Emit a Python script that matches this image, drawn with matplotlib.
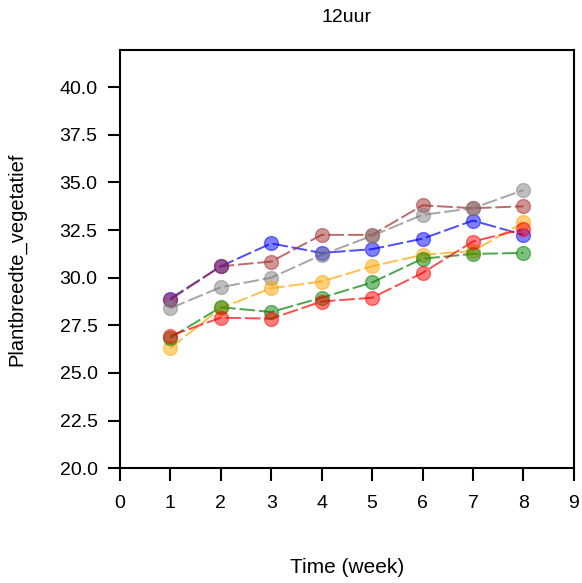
import numpy as np
import matplotlib.pyplot as plt

plt.rcParams['font.family'] = ['Liberation Sans', 'DejaVu Sans']

weeks = [1, 2, 3, 4, 5, 6, 7, 8]
blue = [28.9, 30.6, 31.8, 31.3, 31.5, 32.05, 33.0, 32.25]
brown = [28.85, 30.6, 30.85, 32.25, 32.25, 33.8, 33.65, 33.75]
gray = [28.4, 29.5, 30.0, 31.2, 32.2, 33.3, 33.65, 34.6]
yellow = [26.3, 28.4, 29.45, 29.8, 30.6, 31.2, 31.4, 32.9]
green = [26.85, 28.45, 28.2, 28.95, 29.75, 31.0, 31.25, 31.3]
red = [26.95, 27.9, 27.85, 28.75, 28.95, 30.25, 31.9, 32.55]

series = [(blue, "blue"), (brown, "brown"), (gray, "gray"),
          (yellow, "orange"), (green, "green"), (red, "red")]

fig = plt.figure(figsize=(5.82, 5.83), dpi=100)
ax = fig.add_axes([0.206, 0.197, 0.780, 0.717])

for vals, col in series:
    ax.plot(weeks, vals, linestyle=(0, (8, 2)), color=col, alpha=0.7, linewidth=1.4)
    ax.scatter(weeks, vals, s=100, color=col, alpha=0.5, zorder=3)

ax.set_xlim(0, 9)
ax.set_ylim(20, 41.95)
ax.set_xticks(range(0, 10))
yt = np.arange(20, 40.1, 2.5)
ax.set_yticks(yt)
ax.set_yticklabels([f"{v:.1f}" for v in yt])
ax.tick_params(direction="out", length=9, width=1.5, labelsize=14, pad=7)
ax.tick_params(axis="x", pad=10)
for sp in ax.spines.values():
    sp.set_linewidth(1.5)

ax.text(0.5, 1.077, "12uur", transform=ax.transAxes, ha="center", va="center", fontsize=14)
ax.set_xlabel("Time (week)", fontsize=15)
ax.xaxis.set_label_coords(0.5, -0.215)
ax.set_ylabel("Plantbreedte_vegetatief", fontsize=14.5)
ax.yaxis.set_label_coords(-0.205, 0.5)

plt.savefig("out.png", dpi=100)
